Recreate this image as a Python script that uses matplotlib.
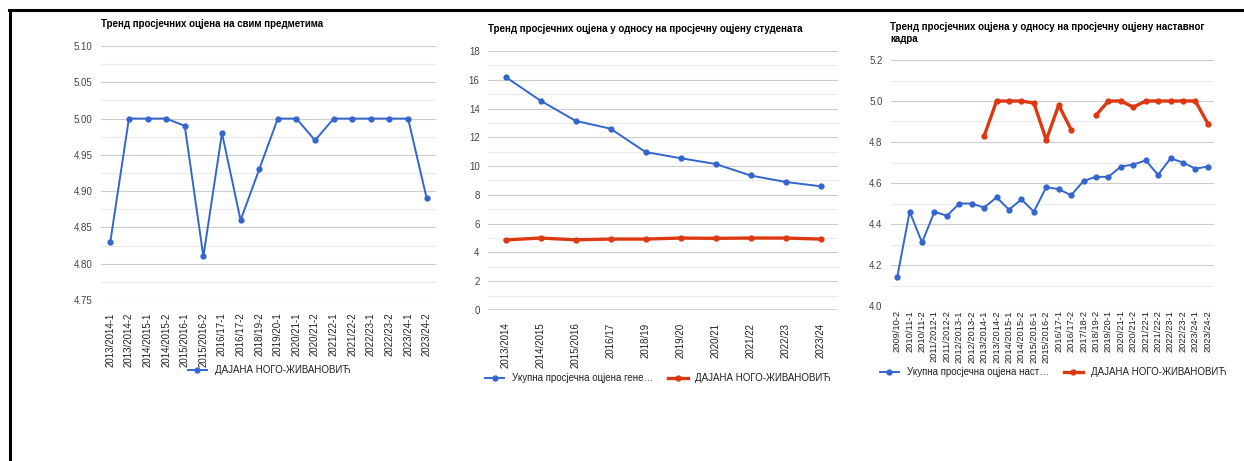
#!/usr/bin/env python3

import numpy as np
import matplotlib
matplotlib.use("Agg")
import matplotlib.pyplot as plt
from matplotlib.lines import Line2D
from matplotlib.ticker import MultipleLocator

plt.rcParams["font.family"] = ["Liberation Sans", "DejaVu Sans"]

BLUE = "#3366cc"
RED = "#dc3912"
TICK = "#444444"
NAME = "ДАЈАНА НОГО-ЖИВАНОВИЋ"

# chart 1: average grade over all subjects, per semester
sem_labels = ["2013/2014-1", "2013/2014-2", "2014/2015-1", "2014/2015-2", "2015/2016-1",
              "2015/2016-2", "2016/17-1", "2016/17-2", "2018/19-2", "2019/20-1",
              "2020/21-1", "2020/21-2", "2021/22-1", "2021/22-2", "2022/23-1",
              "2022/23-2", "2023/24-1", "2023/24-2"]
sem_grades = [4.83, 5.00, 5.00, 5.00, 4.99, 4.81, 4.98, 4.86, 4.93, 5.00,
              5.00, 4.97, 5.00, 5.00, 5.00, 5.00, 5.00, 4.89]

# chart 2: compared with students' average grade, per year
year_labels = ["2013/2014", "2014/2015", "2015/2016", "2016/17", "2018/19",
               "2019/20", "2020/21", "2021/22", "2022/23", "2023/24"]
students_avg = [16.2, 14.55, 13.15, 12.6, 10.98, 10.55, 10.15, 9.35, 8.9, 8.6]
teacher_year = [4.87, 5.00, 4.88, 4.93, 4.93, 5.00, 4.98, 5.00, 5.00, 4.93]

# chart 3: compared with teaching staff average, per semester
staff_labels = ["2009/10-2", "2010/11-1", "2010/11-2", "2011/2012-1", "2011/2012-2",
                "2012/2013-1", "2012/2013-2", "2013/2014-1", "2013/2014-2", "2014/2015-1",
                "2014/2015-2", "2015/2016-1", "2015/2016-2", "2016/17-1", "2016/17-2",
                "2017/18-2", "2018/19-2", "2019/20-1", "2020/21-1", "2020/21-2",
                "2021/22-1", "2021/22-2", "2022/23-1", "2022/23-2", "2023/24-1", "2023/24-2"]
staff_avg = [4.14, 4.46, 4.31, 4.46, 4.44, 4.50, 4.50, 4.48, 4.53, 4.47,
             4.52, 4.46, 4.58, 4.57, 4.54, 4.61, 4.63, 4.63, 4.68, 4.69,
             4.71, 4.64, 4.72, 4.70, 4.67, 4.68]
teacher_sem = [np.nan] * 7 + [4.83, 5.00, 5.00, 5.00, 4.99, 4.81, 4.98, 4.86,
                              np.nan, 4.93, 5.00, 5.00, 4.97, 5.00, 5.00, 5.00,
                              5.00, 5.00, 4.89]

W, H = 1244, 461
fig = plt.figure(figsize=(W / 100, H / 100), dpi=100)


def make_axes(x0, x1, y0, y1):
    # pixel box -> figure fraction
    return fig.add_axes([x0 / W, 1 - y1 / H, (x1 - x0) / W, (y1 - y0) / H])


def style(ax, labels, ylim, major, minor, fmt, xpad, xsize=7):
    ax.set_xlim(-0.5, len(labels) - 0.5)
    ax.set_ylim(*ylim)
    ax.yaxis.set_major_locator(MultipleLocator(major))
    ax.yaxis.set_minor_locator(MultipleLocator(minor))
    ax.yaxis.set_major_formatter(fmt)
    ax.grid(True, which="major", axis="y", color="#cccccc", lw=0.8)
    ax.grid(True, which="minor", axis="y", color="#ebebeb", lw=0.8)
    ax.set_axisbelow(True)
    for s in ax.spines.values():
        s.set_visible(False)
    ax.set_xticks(range(len(labels)))
    ax.set_xticklabels(labels, rotation=90, fontsize=xsize, color="#222222")
    ax.tick_params(axis="x", length=0, pad=xpad)
    ax.tick_params(axis="y", which="both", length=0, pad=6, labelsize=7, labelcolor=TICK)


# chart 1
ax1 = make_axes(101, 436, 46, 300)
x1 = np.arange(len(sem_labels))
ax1.plot(x1, sem_grades, color=BLUE, lw=1.4, marker="o", ms=3.5, label=NAME)
style(ax1, sem_labels, (4.75, 5.10), 0.05, 0.025, "{x:.2f}", 9)
fig.text(101 / W, 1 - 24 / H, "Тренд просјечних оцјена на свим предметима",
         fontsize=7, fontweight="bold", va="center", ha="left")
ax1.legend(loc="center", bbox_to_anchor=(269 / W, 1 - 370 / H), bbox_transform=fig.transFigure,
           frameon=False, fontsize=7, handlelength=2, labelcolor="#222222")

# chart 2
ax2 = make_axes(488, 838, 51, 310)
x2 = np.arange(len(year_labels))
ax2.plot(x2, students_avg, color=BLUE, lw=1.4, marker="o", ms=3.5,
         label="Укупна просјечна оцјена гене…")
ax2.plot(x2, teacher_year, color=RED, lw=2.4, marker="o", ms=3.5, label=NAME)
style(ax2, year_labels, (0, 18), 2, 1, "{x:.0f}", 9)
ax2.axhline(0, color="#333333", lw=1)
fig.text(488 / W, 1 - 29 / H, "Тренд просјечних оцјена у односу на просјечну оцјену студената",
         fontsize=7, fontweight="bold", va="center", ha="left")
ax2.legend(loc="center", bbox_to_anchor=(658 / W, 1 - 378 / H), bbox_transform=fig.transFigure,
           frameon=False, fontsize=7, ncol=2, handlelength=2, columnspacing=1.5,
           labelcolor="#222222")

# chart 3
ax3 = make_axes(891, 1214, 60, 306)
x3 = np.arange(len(staff_labels))
ax3.plot(x3, staff_avg, color=BLUE, lw=1.4, marker="o", ms=3.5,
         label="Укупна просјечна оцјена наст…")
ax3.plot(x3, teacher_sem, color=RED, lw=2.4, marker="o", ms=3.5, label=NAME)
style(ax3, staff_labels, (4.0, 5.2), 0.2, 0.1, "{x:.1f}", 3, xsize=6.7)
fig.text(890 / W, 1 - 33 / H, "Тренд просјечних оцјена у односу на просјечну оцјену наставног\nкадра",
         fontsize=7, fontweight="bold", va="center", ha="left", linespacing=1.3)
ax3.legend(loc="center", bbox_to_anchor=(1053 / W, 1 - 372 / H), bbox_transform=fig.transFigure,
           frameon=False, fontsize=7, ncol=2, handlelength=2, columnspacing=1.5,
           labelcolor="#222222")

# page frame (top and left edges)
fig.add_artist(Line2D([9 / W, 1], [1 - 10 / H, 1 - 10 / H], color="black", lw=2.2))
fig.add_artist(Line2D([10 / W, 10 / W], [1 - 10 / H, 0], color="black", lw=2.2))

fig.savefig("out.png", dpi=100)
